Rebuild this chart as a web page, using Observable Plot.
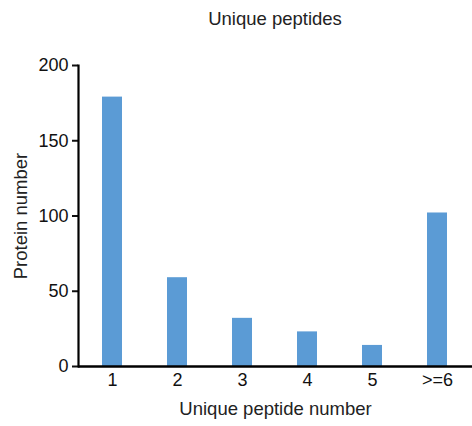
<!DOCTYPE html>
<html>
<head>
<meta charset="utf-8">
<script src="https://cdn.jsdelivr.net/npm/d3@7"></script>
<script src="https://cdn.jsdelivr.net/npm/@observablehq/plot@0.6"></script>
<style>
  html, body { margin: 0; padding: 0; background: #fff; }
  #title { width: 394px; margin-left: 78px; height: 40px; line-height: 38px; text-align: center;
           font-family: "Liberation Sans", Arial, sans-serif; font-size: 18.5px; color: #222; }
  svg { display: block; }
</style>
</head>
<body>
<div id="title">Unique peptides</div>
<div id="chart"></div>
<script>
const categories = ["1", "2", "3", "4", "5", ">=6"];
const counts = [179, 59, 32, 23, 14, 102];
const yTicks = [0, 50, 100, 150, 200];
const xLabel = "Unique peptide number";
const yLabel = "Protein number";

const data = categories.map((c, i) => ({cat: c, n: counts[i]}));

const chart = Plot.plot({
  width: 472,
  height: 386,
  marginLeft: 78,
  marginRight: 0,
  marginTop: 25,
  marginBottom: 60,
  style: {fontFamily: "'Liberation Sans', Arial, sans-serif", fontSize: "18px", color: "#111", background: "#fff"},
  x: {domain: categories, paddingInner: 0.69, paddingOuter: 0.34},
  y: {domain: [0, 200]},
  marks: [
    Plot.barY(data, {x: "cat", y: "n", fill: "#5b9bd5"}),
    Plot.axisY({ticks: yTicks, tickSize: 6, tickPadding: 4, strokeWidth: 2, label: null, fontSize: 18}),
    Plot.axisX({tickSize: 0, tickPadding: 7, label: null, fontSize: 18}),
    Plot.frame({anchor: "left", strokeWidth: 2.2, stroke: "#000"}),
    Plot.ruleY([0], {strokeWidth: 2.5, stroke: "#000"}),
    Plot.text([xLabel], {frameAnchor: "bottom", dy: 42.5, lineAnchor: "middle", textAnchor: "middle", fontSize: 18.5, fill: "#222"}),
    Plot.text([yLabel], {frameAnchor: "left", dx: -57, rotate: -90, lineAnchor: "middle", textAnchor: "middle", fontSize: 18.5, fill: "#222"})
  ]
});
document.getElementById("chart").appendChild(chart);
</script>
</body>
</html>
